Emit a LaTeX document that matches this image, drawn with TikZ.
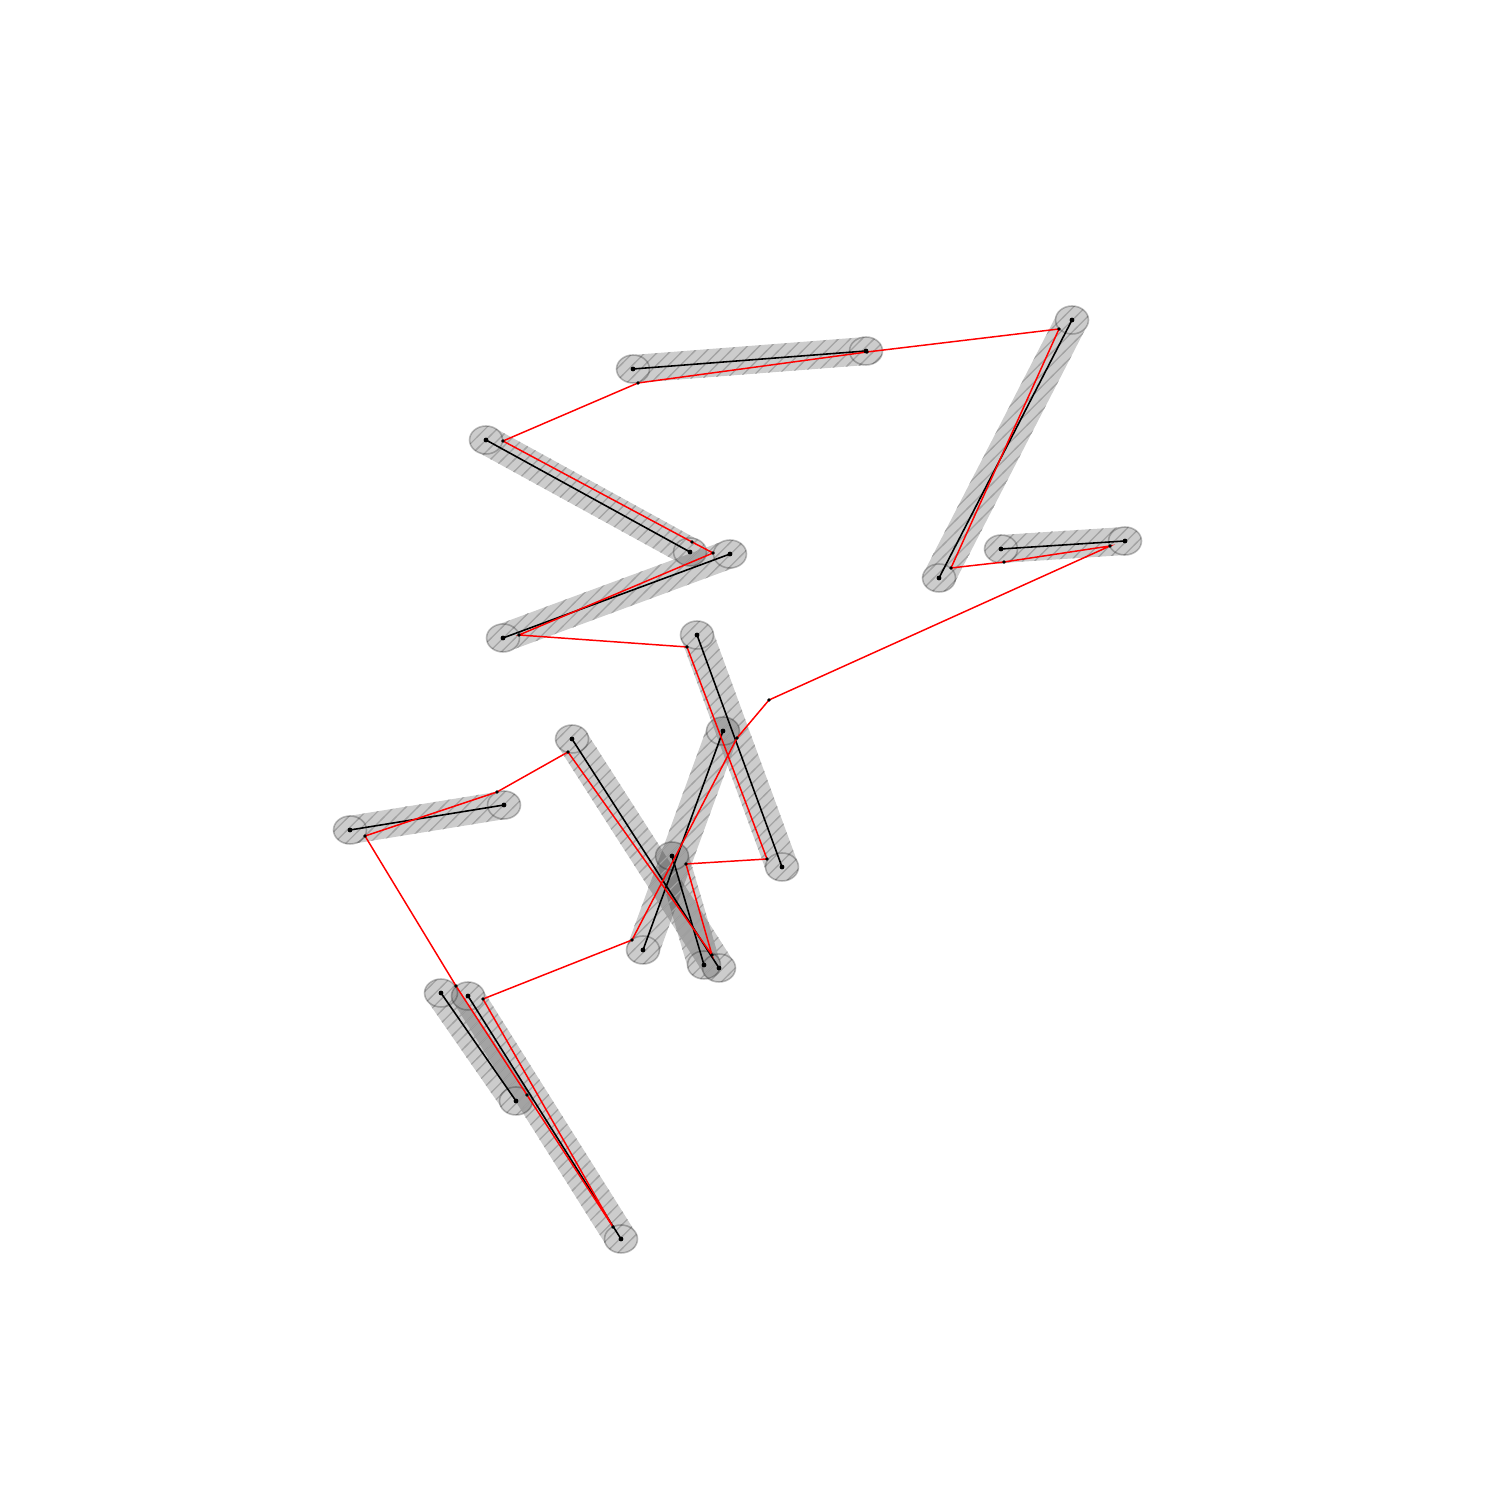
\documentclass[tikz,border=0pt]{standalone}
\usetikzlibrary{patterns}
\pgfdeclarepatternformonly{hatchx}{\pgfqpoint{-1pt}{-1pt}}{\pgfqpoint{4.4pt}{4.4pt}}{\pgfqpoint{3.4pt}{3.4pt}}{%
  \pgfsetlinewidth{0.35pt}%
  \pgfpathmoveto{\pgfqpoint{-0.5pt}{-0.5pt}}%
  \pgfpathlineto{\pgfqpoint{3.9pt}{3.9pt}}%
  \pgfusepath{stroke}}
\def\asp{0.85}
\def\Rx{16.5}
\def\Ry{14}
% capsule between two endpoints given in pixel coordinates (y measured from the top)
\newcommand\capsulepath[5]{%
 \pgfmathsetmacro\cax{#2}\pgfmathsetmacro\cay{1500-#3}%
 \pgfmathsetmacro\cbx{#4}\pgfmathsetmacro\cby{1500-#5}%
 \pgfmathsetmacro\cph{atan2((\cby-\cay)/\asp,\cbx-\cax)}%
 \pgfmathsetmacro\csa{\cph-90}\pgfmathsetmacro\cea{\cph+90}\pgfmathsetmacro\ceb{\cph+270}%
 \pgfmathsetmacro\cox{\Rx*cos(\csa)}\pgfmathsetmacro\coy{\Ry*sin(\csa)}%
 \path[#1] (\cax+\cox,\cay+\coy) -- (\cbx+\cox,\cby+\coy)
  arc[start angle=\csa,end angle=\cea,x radius=\Rx,y radius=\Ry]
  -- (\cax-\cox,\cay-\coy)
  arc[start angle=\cea,end angle=\ceb,x radius=\Rx,y radius=\Ry] -- cycle;}
\newcommand\capsule[4]{%
 \capsulepath{capsfill}{#1}{#2}{#3}{#4}%
 \capsulepath{capshatch}{#1}{#2}{#3}{#4}}
\tikzset{
 capsfill/.style={fill=black,fill opacity=0.2},
 capshatch/.style={pattern=hatchx,pattern color=black!36},
 endring/.style={draw=black,draw opacity=0.25,line width=0.45pt},
 segline/.style={draw=black,line width=0.45pt},
 redpath/.style={draw=red,line width=0.42pt,line join=miter},
 enddot/.style={fill=black},
 vdot/.style={fill=black},
}
\begin{document}
\begin{tikzpicture}[x=0.01cm,y=0.01cm]
\useasboundingbox (0,0) rectangle (1500,1500);
% capsules
\capsule{633}{369}{866}{351}
\capsule{486}{440}{690}{552}
\capsule{503}{638}{730}{554}
\capsule{1072}{320}{939}{578}
\capsule{1001}{549}{1125}{541}
\capsule{697}{635}{782}{867}
\capsule{723}{731}{643}{950}
\capsule{572}{739}{719}{968}
\capsule{672}{856}{704}{965}
\capsule{350}{830}{504}{805}
\capsule{441}{993}{516}{1101}
\capsule{468}{996}{621}{1239}
% segment endpoints
\coordinate (a1) at (633,1500-369); \coordinate (b1) at (866,1500-351);
\coordinate (a2) at (486,1500-440); \coordinate (b2) at (690,1500-552);
\coordinate (a3) at (503,1500-638); \coordinate (b3) at (730,1500-554);
\coordinate (a4) at (1072,1500-320); \coordinate (b4) at (939,1500-578);
\coordinate (a5) at (1001,1500-549); \coordinate (b5) at (1125,1500-541);
\coordinate (a6) at (697,1500-635); \coordinate (b6) at (782,1500-867);
\coordinate (a7) at (723,1500-731); \coordinate (b7) at (643,1500-950);
\coordinate (a8) at (572,1500-739); \coordinate (b8) at (719,1500-968);
\coordinate (a9) at (672,1500-856); \coordinate (b9) at (704,1500-965);
\coordinate (a10) at (350,1500-830); \coordinate (b10) at (504,1500-805);
\coordinate (a11) at (441,1500-993); \coordinate (b11) at (516,1500-1101);
\coordinate (a12) at (468,1500-996); \coordinate (b12) at (621,1500-1239);
% red path vertices
\coordinate (v1) at (769,1500-700);
\coordinate (v2) at (1110,1500-546);
\coordinate (v3) at (1004,1500-562);
\coordinate (v4) at (951,1500-568);
\coordinate (v5) at (1059,1500-329);
\coordinate (v6) at (867,1500-352);
\coordinate (v7) at (638,1500-383);
\coordinate (v8) at (503,1500-441);
\coordinate (v9) at (692,1500-542);
\coordinate (v10) at (713,1500-553);
\coordinate (v11) at (519,1500-635);
\coordinate (v12) at (687,1500-647);
\coordinate (v13) at (767,1500-859);
\coordinate (v14) at (686,1500-864);
\coordinate (v15) at (712,1500-955);
\coordinate (v16) at (568,1500-752);
\coordinate (v17) at (497,1500-792);
\coordinate (v18) at (365,1500-836);
\coordinate (v19) at (456,1500-986);
\coordinate (v20) at (527,1500-1095);
\coordinate (v21) at (613,1500-1227);
\coordinate (v22) at (483,1500-999);
\coordinate (v23) at (632,1500-940);
\coordinate (v24) at (737,1500-738);
\foreach \i in {1,...,12}{
 \draw[endring] (a\i) ellipse[x radius=\Rx,y radius=\Ry];
 \draw[endring] (b\i) ellipse[x radius=\Rx,y radius=\Ry];
}
\foreach \i in {1,...,12}{\draw[segline] (a\i) -- (b\i);}
% red path
\draw[redpath] (v1) -- (v2) -- (v3) -- (v4) -- (v5) -- (v6) -- (v7) -- (v8) -- (v9) -- (v10) -- (v11) -- (v12) -- (v13) -- (v14) -- (v15) -- (v16) -- (v17) -- (v18) -- (v19) -- (v20) -- (v21) -- (v22) -- (v23) -- (v24) -- cycle;
% dots
\foreach \i in {1,...,12}{
 \fill[enddot] (a\i) circle[radius=2.4];
 \fill[enddot] (b\i) circle[radius=2.4];
}
\foreach \i in {1,...,24}{\fill[vdot] (v\i) circle[radius=1.8];}
\end{tikzpicture}
\end{document}
